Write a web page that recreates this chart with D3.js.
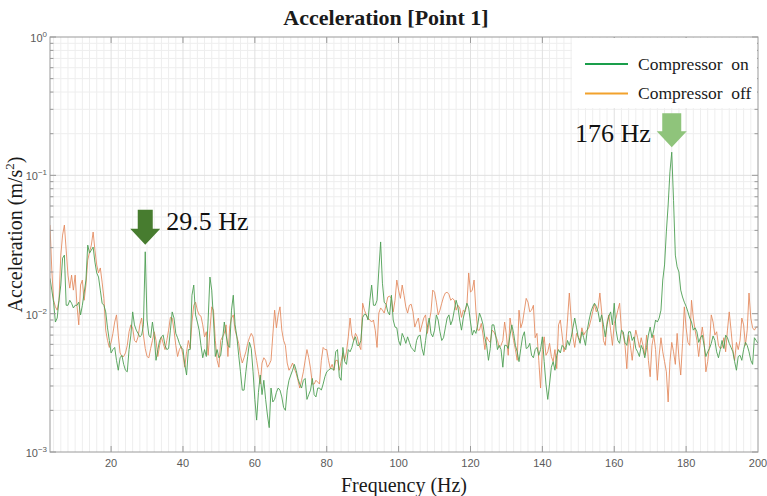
<!DOCTYPE html>
<html>
<head>
<meta charset="utf-8">
<script src="https://cdn.jsdelivr.net/npm/d3@7"></script>
<style>
  body { margin: 0; background: #fff; }
  svg { display: block; }
</style>
</head>
<body>
<svg id="chart" width="767" height="496"></svg>
<script>
// ---- data -----------------------------------------------------------------
const chartTitle = "Acceleration [Point 1]";
const xTitle = "Frequency (Hz)";
const seriesNames = ["Compressor  on", "Compressor  off"];
const xTickValues = [20, 40, 60, 80, 100, 120, 140, 160, 180, 200];
const yTickExponents = [0, -1, -2, -3];

// spectra sampled every 0.5 Hz starting at 3 Hz (m/s^2)
const freqStart = 3;
const freqStep = 0.5;

const accOn = [
  0.018,0.0148,0.0121,0.0087,0.0093,0.0125,0.0161,0.0252,0.0265,0.0115, 0.0115,0.0125,0.0119,0.011,0.0115,0.0115,0.0121,0.0098,0.0115,0.0141,
  0.0175,0.0313,0.0274,0.0288,0.0303,0.0236,0.0197,0.0184,0.0148,0.0119, 0.0115,0.0103,0.0079,0.0064,0.0052,0.0055,0.0057,0.0046,0.0039,0.0048,
  0.005,0.0043,0.0039,0.0038,0.0055,0.007,0.0103,0.0083,0.0076,0.0072, 0.0068,0.007,0.0083,0.028,0.009,0.007,0.0067,0.0087,0.007,0.0046,
  0.0055,0.0064,0.0068,0.007,0.0059,0.0055,0.0056,0.0076,0.0103,0.0093, 0.0072,0.0067,0.0061,0.0057,0.0055,0.0043,0.0036,0.0055,0.0055,0.0136,
  0.0161,0.0098,0.0087,0.0076,0.0059,0.0048,0.0055,0.0049,0.009,0.0184, 0.0148,0.009,0.0049,0.0055,0.0048,0.005,0.0064,0.0087,0.007,0.0059,
  0.0057,0.0106,0.0136,0.0083,0.0068,0.005,0.0038,0.0028,0.0028,0.0038, 0.0049,0.0062,0.0056,0.0038,0.0024,0.0017,0.0027,0.0036,0.0026,0.0033,
  0.0024,0.00185,0.0015,0.0029,0.0023,0.0024,0.0027,0.0029,0.0028,0.0025, 0.0021,0.002,0.0028,0.0033,0.0036,0.0039,0.0043,0.0039,0.0034,0.0031,
  0.0029,0.0033,0.0034,0.0024,0.0026,0.0028,0.0034,0.0026,0.0025,0.0029, 0.0029,0.0028,0.0031,0.0035,0.0038,0.0039,0.004,0.004,0.0039,0.0053,
  0.0055,0.0035,0.0033,0.0057,0.0045,0.0043,0.0055,0.0053,0.0057,0.0064, 0.0068,0.0059,0.0059,0.0064,0.0094,0.0099,0.0098,0.009,0.0125,0.0161,
  0.0115,0.0115,0.0125,0.0207,0.033,0.0166,0.0121,0.0117,0.0103,0.0098, 0.0136,0.009,0.008,0.0079,0.0064,0.0059,0.0072,0.0067,0.0061,0.0068,
  0.0062,0.0057,0.0055,0.0053,0.0064,0.0069,0.007,0.0056,0.005,0.0064, 0.008,0.0093,0.0072,0.0068,0.0076,0.0098,0.009,0.0074,0.0064,0.0067,
  0.0079,0.0093,0.0098,0.0083,0.009,0.0106,0.0125,0.0112,0.009,0.0076, 0.0093,0.0106,0.0119,0.011,0.0087,0.007,0.0076,0.0072,0.0083,0.0101,
  0.0093,0.0083,0.0067,0.0059,0.0046,0.0056,0.0083,0.0083,0.007,0.0055, 0.0059,0.0055,0.0041,0.0059,0.0059,0.0056,0.007,0.0083,0.0072,0.0059,
  0.0053,0.0045,0.0056,0.0068,0.0074,0.0056,0.0057,0.0061,0.005,0.0048, 0.0055,0.0057,0.005,0.0055,0.0068,0.0045,0.0031,0.0024,0.0031,0.0041,
  0.0045,0.0039,0.005,0.0055,0.0052,0.0059,0.0057,0.0055,0.0064,0.0059, 0.0067,0.0079,0.0093,0.0079,0.0067,0.0061,0.0074,0.0067,0.0059,0.0076,
  0.009,0.0103,0.0112,0.0119,0.0113,0.0103,0.0087,0.0098,0.0083,0.0068, 0.0083,0.0096,0.0103,0.0083,0.0119,0.0076,0.0064,0.0061,0.0076,0.0074,
  0.0062,0.0059,0.0074,0.0074,0.0064,0.0068,0.0056,0.0053,0.0049,0.0059, 0.0055,0.0048,0.0057,0.007,0.008,0.0067,0.0076,0.009,0.0087,0.0093,
  0.0106,0.0175,0.0225,0.039,0.061,0.106,0.147,0.066,0.0265,0.0218, 0.02,0.0148,0.0132,0.0121,0.0113,0.0103,0.0093,0.0087,0.0076,0.0079,
  0.0074,0.0062,0.0067,0.007,0.0059,0.0049,0.0053,0.0056,0.0061,0.0069, 0.0064,0.0053,0.0048,0.0055,0.0064,0.0056,0.007,0.0067,0.0061,0.0057,
  0.0053,0.0045,0.0039,0.0049,0.005,0.0046,0.0055,0.0062,0.0059,0.0053, 0.0046,0.0043,0.0067,0.0064,0.0061
];

const accOff = [
  0.0437,0.0207,0.0125,0.0112,0.0106,0.0125,0.0265,0.037,0.0437,0.0288, 0.019,0.0153,0.019,0.0148,0.019,0.0115,0.0083,0.0161,0.0175,0.0125,
  0.0161,0.0244,0.0279,0.0313,0.0389,0.0288,0.0225,0.0197,0.0214,0.0169, 0.0129,0.0076,0.0064,0.0057,0.0062,0.0072,0.0087,0.0098,0.007,0.0052,
  0.0049,0.0049,0.0052,0.0059,0.0074,0.0083,0.0079,0.0064,0.0062,0.0068, 0.0083,0.0093,0.007,0.0056,0.0049,0.0048,0.0056,0.0064,0.0074,0.0064,
  0.0049,0.0059,0.0068,0.0061,0.0055,0.0064,0.0076,0.0094,0.0093,0.0076, 0.0059,0.0049,0.0055,0.0058,0.005,0.0041,0.0053,0.0064,0.0056,0.0087,
  0.0115,0.0121,0.0106,0.0098,0.0096,0.0083,0.0068,0.0074,0.005,0.0076, 0.0112,0.0106,0.0064,0.0046,0.0041,0.0064,0.0068,0.0072,0.0083,0.0049,
  0.008,0.0093,0.0098,0.0076,0.0068,0.0061,0.005,0.0044,0.0048,0.0053, 0.0061,0.0067,0.0072,0.0068,0.0055,0.0046,0.0038,0.0031,0.0044,0.0048,
  0.0046,0.0041,0.0043,0.0046,0.007,0.0106,0.0079,0.0098,0.0112,0.0076, 0.0064,0.0059,0.0044,0.0039,0.0041,0.0044,0.004,0.0037,0.0033,0.0029,
  0.0033,0.0038,0.0046,0.0055,0.0048,0.004,0.0031,0.0031,0.0033,0.0032, 0.0031,0.0046,0.0057,0.0055,0.0055,0.0046,0.004,0.0043,0.0039,0.0046,
  0.0046,0.0039,0.0045,0.0052,0.0046,0.0053,0.0068,0.0093,0.007,0.0064, 0.0072,0.0068,0.0059,0.0055,0.0119,0.0106,0.0098,0.0093,0.009,0.0087,
  0.009,0.0076,0.0057,0.0101,0.011,0.0106,0.0101,0.0115,0.0132,0.0134, 0.0129,0.0103,0.0125,0.0175,0.0148,0.0129,0.0161,0.0136,0.0112,0.0101,
  0.0115,0.0117,0.0103,0.008,0.0087,0.0093,0.0074,0.0083,0.0093,0.0098, 0.0072,0.0087,0.0103,0.0148,0.0143,0.0121,0.0098,0.0106,0.0119,0.0132,
  0.0141,0.0143,0.0138,0.0125,0.0129,0.0125,0.0106,0.0115,0.011,0.0094, 0.0106,0.0103,0.0115,0.0197,0.0143,0.0148,0.0175,0.0106,0.0076,0.0076,
  0.0085,0.007,0.0055,0.0068,0.0064,0.0062,0.0076,0.0074,0.0069,0.0064, 0.0057,0.0059,0.0064,0.0087,0.007,0.005,0.0093,0.0076,0.0064,0.0055,
  0.0046,0.0106,0.0079,0.0087,0.0106,0.0129,0.0121,0.0103,0.0106,0.0115, 0.0067,0.0072,0.0046,0.0029,0.0055,0.0068,0.005,0.0053,0.0061,0.0049,
  0.0045,0.0055,0.004,0.0083,0.009,0.007,0.0053,0.0059,0.009,0.0141, 0.0093,0.0068,0.0057,0.0072,0.0068,0.0064,0.0079,0.007,0.0074,0.0076,
  0.008,0.009,0.0103,0.0117,0.0103,0.011,0.0141,0.0103,0.0064,0.0059, 0.0087,0.0098,0.0076,0.0059,0.0085,0.0093,0.0106,0.0119,0.0076,0.007,
  0.0059,0.004,0.007,0.0059,0.0046,0.0062,0.0076,0.0067,0.0057,0.0067, 0.0059,0.005,0.007,0.0046,0.0035,0.0059,0.007,0.0055,0.0033,0.005,
  0.0067,0.0053,0.0045,0.0038,0.0023,0.0045,0.0062,0.0053,0.0043,0.0072, 0.0048,0.0036,0.0061,0.0112,0.0079,0.0062,0.0059,0.0125,0.0093,0.0076,
  0.0064,0.0049,0.0064,0.008,0.0064,0.0038,0.0045,0.0059,0.0098,0.0087, 0.007,0.0074,0.0059,0.0056,0.0057,0.0067,0.0053,0.0076,0.0103,0.0076,
  0.0055,0.0046,0.0062,0.0055,0.0064,0.0093,0.0083,0.0059,0.0076,0.0141, 0.0093,0.0079,0.0076,0.008,0.008
];

// annotated peaks of the "compressor on" spectrum
const peakFreqs = [29.5, 176];
const peakLabels = ["29.5 Hz", "176 Hz"];

// ---- layout ---------------------------------------------------------------
const W = 767, H = 496;
const plot = { left: 50, right: 758, top: 37, bottom: 452 };
const SERIF = "'Liberation Serif', 'Times New Roman', serif";
const SANS = "'Liberation Sans', Arial, Helvetica, sans-serif";
const lineColors = ["#4e9f53", "#e3875b"];
const legendColors = ["#1a9e4b", "#f2a22c"];
const arrowColors = ["#477c2f", "#8fc47b"];

const svg = d3.select("#chart");

const x = d3.scaleLinear().domain([3, 200]).range([plot.left, plot.right]);
const y = d3.scaleLog().domain([1e-3, 1]).range([plot.bottom, plot.top]);

const freqAt = i => freqStart + i * freqStep;
const onPts = accOn.map((v, i) => [freqAt(i), v]);
const offPts = accOff.map((v, i) => [freqAt(i), v]);

// ---- grid -----------------------------------------------------------------
const grid = svg.append("g");
const minorX = d3.range(4, 200, 2).filter(f => f % 20 !== 0);
const minorY = [];
[-3, -2, -1].forEach(e => { for (let k = 2; k <= 9; k++) minorY.push(k * Math.pow(10, e)); });

grid.selectAll(".gxm").data(minorX).join("line")
  .attr("x1", d => x(d)).attr("x2", d => x(d))
  .attr("y1", plot.top).attr("y2", plot.bottom)
  .attr("stroke", "#eeeeee").attr("stroke-width", 1);
grid.selectAll(".gym").data(minorY).join("line")
  .attr("x1", plot.left).attr("x2", plot.right)
  .attr("y1", d => y(d)).attr("y2", d => y(d))
  .attr("stroke", "#eeeeee").attr("stroke-width", 1);
grid.selectAll(".gxM").data(xTickValues.slice(0, -1)).join("line")
  .attr("x1", d => x(d)).attr("x2", d => x(d))
  .attr("y1", plot.top).attr("y2", plot.bottom)
  .attr("stroke", "#e0e0e0").attr("stroke-width", 1);
grid.selectAll(".gyM").data([1e-2, 1e-1]).join("line")
  .attr("x1", plot.left).attr("x2", plot.right)
  .attr("y1", d => y(d)).attr("y2", d => y(d))
  .attr("stroke", "#e0e0e0").attr("stroke-width", 1);

// ---- spectra --------------------------------------------------------------
svg.append("clipPath").attr("id", "plotClip")
  .append("rect")
  .attr("x", plot.left).attr("y", plot.top)
  .attr("width", plot.right - plot.left).attr("height", plot.bottom - plot.top);

const line = d3.line().x(d => x(d[0])).y(d => y(d[1]));
const lines = svg.append("g").attr("clip-path", "url(#plotClip)");
lines.append("path").datum(offPts)
  .attr("d", line).attr("fill", "none")
  .attr("stroke", lineColors[1]).attr("stroke-width", 1).attr("stroke-opacity", 0.85)
  .attr("stroke-linejoin", "round");
lines.append("path").datum(onPts)
  .attr("d", line).attr("fill", "none")
  .attr("stroke", lineColors[0]).attr("stroke-width", 1).attr("stroke-opacity", 0.9)
  .attr("stroke-linejoin", "round");

// ---- axes box and ticks ---------------------------------------------------
const axisColor = "#9a9a9a";
const axes = svg.append("g");
axes.append("rect")
  .attr("x", plot.left).attr("y", plot.top)
  .attr("width", plot.right - plot.left).attr("height", plot.bottom - plot.top)
  .attr("fill", "none").attr("stroke", axisColor).attr("stroke-width", 1);

// x ticks, inward on bottom and top
const xt = xTickValues.slice(0, -1);
axes.selectAll(".xtb").data(xt).join("line")
  .attr("x1", d => x(d)).attr("x2", d => x(d))
  .attr("y1", plot.bottom).attr("y2", plot.bottom - 6)
  .attr("stroke", axisColor);
axes.selectAll(".xtt").data(xt).join("line")
  .attr("x1", d => x(d)).attr("x2", d => x(d))
  .attr("y1", plot.top).attr("y2", plot.top + 6)
  .attr("stroke", axisColor);

// y ticks (log major + minor), inward on left and right
const yMajor = yTickExponents.map(e => Math.pow(10, e));
[[plot.left, 1], [plot.right, -1]].forEach(([x0, dir]) => {
  axes.selectAll(null).data(yMajor).join("line")
    .attr("x1", x0).attr("x2", x0 + dir * 6)
    .attr("y1", d => y(d)).attr("y2", d => y(d))
    .attr("stroke", axisColor);
  axes.selectAll(null).data(minorY).join("line")
    .attr("x1", x0).attr("x2", x0 + dir * 3.5)
    .attr("y1", d => y(d)).attr("y2", d => y(d))
    .attr("stroke", axisColor);
});

// tick labels
axes.selectAll(".xl").data(xTickValues).join("text")
  .attr("x", d => x(d)).attr("y", plot.bottom + 15)
  .attr("text-anchor", "middle")
  .attr("font-family", SANS).attr("font-size", 11).attr("fill", "#5a5a5a")
  .text(d => d);

const yl = axes.selectAll(".yl").data(yTickExponents).join("text")
  .attr("x", plot.left - 3).attr("y", d => y(Math.pow(10, d)) + 5)
  .attr("text-anchor", "end")
  .attr("font-family", SANS).attr("font-size", 11).attr("fill", "#5a5a5a");
yl.append("tspan").text("10");
yl.append("tspan").attr("dy", -5).attr("font-size", 8).text(d => d === 0 ? "0" : "\u2212" + (-d));

// ---- titles ---------------------------------------------------------------
svg.append("text")
  .attr("x", 386).attr("y", 25)
  .attr("text-anchor", "middle")
  .attr("font-family", SERIF).attr("font-weight", "bold").attr("font-size", 22)
  .attr("fill", "#1a1a1a")
  .text(chartTitle);

svg.append("text")
  .attr("x", 404).attr("y", 492)
  .attr("text-anchor", "middle")
  .attr("font-family", SERIF).attr("font-size", 20).attr("fill", "#1a1a1a")
  .text(xTitle);

const yTitle = svg.append("text")
  .attr("transform", `translate(22, ${(plot.top + plot.bottom) / 2 - 10}) rotate(-90)`)
  .attr("text-anchor", "middle")
  .attr("font-family", SERIF).attr("font-size", 20).attr("fill", "#1a1a1a");
yTitle.append("tspan").text("Acceleration (m/s");
yTitle.append("tspan").attr("dy", -8).attr("font-size", 13).text("2");
yTitle.append("tspan").attr("dy", 8).text(")");

// ---- legend ---------------------------------------------------------------
const legend = svg.append("g");
legend.append("rect")
  .attr("x", 572).attr("y", plot.top + 1)
  .attr("width", plot.right - 572 - 1).attr("height", 70)
  .attr("fill", "#fff");
seriesNames.forEach((name, i) => {
  const ly = 64 + i * 29.5;
  legend.append("line")
    .attr("x1", 585).attr("x2", 628).attr("y1", ly).attr("y2", ly)
    .attr("stroke", legendColors[i]).attr("stroke-width", 2.2);
  legend.append("text")
    .attr("x", 638).attr("y", ly + 5.5)
    .attr("font-family", SERIF).attr("font-size", 17.5).attr("fill", "#1a1a1a")
    .style("white-space", "pre")
    .text(name);
});

// ---- peak arrows ----------------------------------------------------------
const arrowSpec = [
  { gap: 7, shaftHalf: 7.5, length: 35, labelDx: 21, labelDy: -15, anchor: "start" },
  { gap: 5, shaftHalf: 9.5, length: 34, labelDx: -21, labelDy: -5, anchor: "end" }
];
peakFreqs.forEach((f, i) => {
  const idx = Math.round((f - freqStart) / freqStep);
  const tx = x(f);
  const ty = y(accOn[idx]) - arrowSpec[i].gap;
  const s = arrowSpec[i];
  const headH = 16, headHalf = 15;
  const pts = [
    [tx, ty],
    [tx - headHalf, ty - headH],
    [tx - s.shaftHalf, ty - headH],
    [tx - s.shaftHalf, ty - s.length],
    [tx + s.shaftHalf, ty - s.length],
    [tx + s.shaftHalf, ty - headH],
    [tx + headHalf, ty - headH]
  ];
  svg.append("path")
    .attr("d", "M" + pts.map(p => p.join(",")).join("L") + "Z")
    .attr("fill", arrowColors[i]);
  svg.append("text")
    .attr("x", tx + s.labelDx).attr("y", ty + s.labelDy)
    .attr("text-anchor", s.anchor)
    .attr("font-family", SERIF).attr("font-size", 26).attr("fill", "#111")
    .text(peakLabels[i]);
});
</script>
</body>
</html>
